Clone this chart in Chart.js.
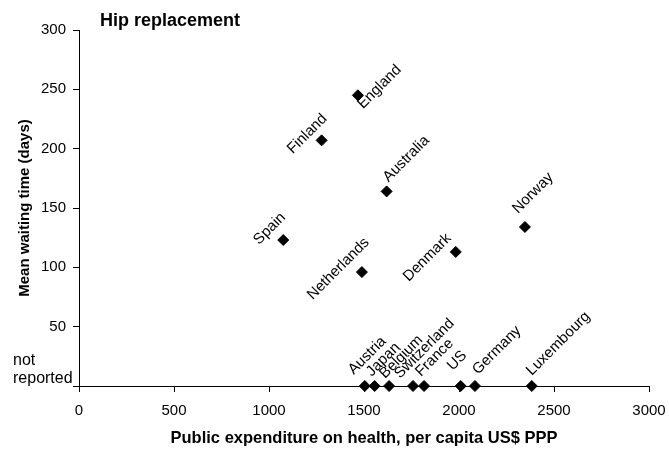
<!DOCTYPE html>
<html lang="en">
<head>
<meta charset="UTF-8" />
<title>Hip replacement</title>
<style>
  html, body { margin: 0; padding: 0; background: #fff; }
  #wrap { width: 669px; height: 454px; }
</style>
</head>
<body>
<div id="wrap"><canvas id="hipChart" width="669" height="454"></canvas></div>

<script src="https://cdn.jsdelivr.net/npm/chart.js"></script>
<script>
  // Countries that reported a mean waiting time
  const reportedCountries = ['England', 'Finland', 'Australia', 'Spain', 'Netherlands', 'Denmark', 'Norway'];
  const reportedSpending = [1468, 1277, 1619, 1075, 1489, 1983, 2347];
  const reportedWaitDays = [245, 207, 164, 123, 96, 113, 134];

  // Countries with no waiting time reported (sit on the baseline)
  const unreportedCountries = ['Austria', 'Japan', 'Belgium', 'Switzerland', 'France', 'US', 'Germany', 'Luxembourg'];
  const unreportedSpending = [1504, 1556, 1632, 1758, 1816, 2009, 2084, 2383];

  const xTickValues = [0, 500, 1000, 1500, 2000, 2500, 3000];
  const yTickValues = [0, 50, 100, 150, 200, 250, 300];

  const FONT = "'Liberation Sans', Arial, sans-serif";
  Chart.defaults.font.family = FONT;
  Chart.defaults.color = '#000';

  // where each rotated label starts ('start') or ends ('end'), relative to its point
  const labelAnchor = {
    England: [5, 14, 'start'], Finland: [6, -21, 'end'], Australia: [2, -9, 'start'],
    Spain: [3, -22, 'end'], Netherlands: [8, -29, 'end'], Denmark: [-4, -13, 'end'],
    Norway: [-7, -13, 'start'],
    Austria: [-11, -11, 'start'], Japan: [-3, -9, 'start'], Belgium: [-4, -7, 'start'],
    Switzerland: [-13, -7, 'start'], France: [-3, -9, 'start'], US: [-8, -15, 'start'],
    Germany: [3, -11, 'start'], Luxembourg: [0, -10, 'start']
  };

  const labelPlugin = {
    id: 'countryLabels',
    afterDatasetsDraw(chart) {
      const ctx = chart.ctx;
      const area = chart.chartArea;
      ctx.save();
      ctx.fillStyle = '#000';
      ctx.font = '15px ' + FONT;
      ctx.textBaseline = 'alphabetic';
      chart.data.datasets.forEach((ds, di) => {
        chart.getDatasetMeta(di).data.forEach((pt, i) => {
          const name = ds.data[i].name;
          const a = labelAnchor[name];
          ctx.save();
          ctx.translate(pt.x + a[0], pt.y + a[1]);
          ctx.rotate(-Math.PI / 4);
          ctx.textAlign = a[2] === 'end' ? 'right' : 'left';
          ctx.fillText(name, 0, 0);
          ctx.restore();
        });
      });

      // "not reported" in place of the 0 tick
      ctx.textAlign = 'left';
      ctx.font = '16px ' + FONT;
      ctx.fillText('not', 13, area.bottom - 21);
      ctx.fillText('reported', 13, area.bottom - 3);

      // chart title sits inside the top-left corner
      ctx.font = 'bold 18px ' + FONT;
      ctx.fillText('Hip replacement', area.left + 21, area.top - 4);
      ctx.restore();
    }
  };

  const axisGrid = {
    drawOnChartArea: false,
    drawTicks: true,
    tickLength: 6,
    color: '#000',
    tickColor: '#000'
  };

  const ctx = document.getElementById('hipChart').getContext('2d');
  new Chart(ctx, {
    type: 'scatter',
    data: {
      datasets: [
        {
          label: 'Reported',
          data: reportedCountries.map((c, i) => ({ x: reportedSpending[i], y: reportedWaitDays[i], name: c })),
          pointStyle: 'rectRot',
          pointRadius: 5.5,
          backgroundColor: '#000',
          borderColor: '#000',
          borderWidth: 1,
          clip: false
        },
        {
          label: 'Not reported',
          data: unreportedCountries.map((c, i) => ({ x: unreportedSpending[i], y: 0, name: c })),
          pointStyle: 'rectRot',
          pointRadius: 5.5,
          backgroundColor: '#000',
          borderColor: '#000',
          borderWidth: 1,
          clip: false
        }
      ]
    },
    options: {
      responsive: false,
      animation: false,
      devicePixelRatio: 1,
      layout: { padding: { left: 0, right: 20, top: 30, bottom: 0 } },
      plugins: {
        legend: { display: false },
        tooltip: { enabled: false }
      },
      scales: {
        x: {
          type: 'linear',
          min: 0,
          max: 3000,
          afterBuildTicks: s => { s.ticks = xTickValues.map(v => ({ value: v })); },
          afterFit: s => {
            s.height = 68;
            s.paddingLeft = 0;
            s.paddingRight = 0;
          },
          grid: axisGrid,
          border: { color: '#000', width: 1 },
          ticks: {
            font: { size: 15 },
            color: '#000',
            padding: 10,
            maxRotation: 0,
            callback: v => String(v)
          },
          title: {
            display: true,
            text: 'Public expenditure on health, per capita US$ PPP',
            font: { size: 16.5, weight: 'bold' },
            color: '#000',
            padding: { top: 0, bottom: 6 }
          }
        },
        y: {
          min: 0,
          max: 300,
          afterBuildTicks: s => { s.ticks = yTickValues.map(v => ({ value: v })); },
          afterFit: s => { s.width = 79; },
          grid: axisGrid,
          border: { color: '#000', width: 1 },
          ticks: {
            font: { size: 15 },
            color: '#000',
            padding: 7,
            callback: v => (v === 0 ? '' : String(v))
          },
          title: {
            display: true,
            text: 'Mean waiting time (days)',
            font: { size: 15, weight: 'bold' },
            color: '#000',
            padding: { top: 16, bottom: 0 }
          }
        }
      }
    },
    plugins: [labelPlugin]
  });
</script>
</body>
</html>
